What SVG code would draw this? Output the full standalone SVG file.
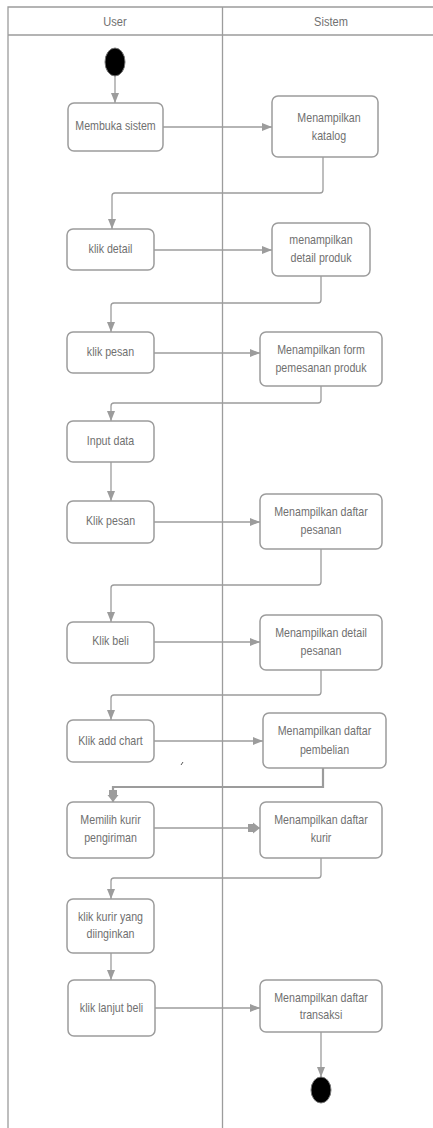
<svg xmlns="http://www.w3.org/2000/svg" width="433" height="1128" viewBox="0 0 433 1128">
<defs>
<style>
.lane{stroke:#9c9c9c;stroke-width:1.3;fill:none}
.box{fill:#fff;stroke:#9c9c9c;stroke-width:1.5}
.t{font-family:"Liberation Sans",Arial,sans-serif;font-size:13px;fill:#707070;text-anchor:middle}
.h{font-family:"Liberation Sans",Arial,sans-serif;font-size:13.5px;fill:#707070;text-anchor:middle}
.c{fill:none;stroke:#9c9c9c;stroke-width:1.3}
.ck{fill:none;stroke:#9c9c9c;stroke-width:2.2}
.dot{fill:#000;stroke:#777;stroke-width:1}
</style>
<marker id="a" markerUnits="userSpaceOnUse" markerWidth="10" markerHeight="10" viewBox="0 0 10 10" refX="10" refY="5" orient="auto">
<path d="M0,1 L10,5 L0,9 Z" fill="#9c9c9c"/>
</marker>
<marker id="ak" markerUnits="userSpaceOnUse" markerWidth="12" markerHeight="12" viewBox="0 0 12 12" refX="12" refY="6" orient="auto">
<path d="M0,2 L5,2 L5,0.5 L12,6 L5,11.5 L5,10 L0,10 Z" fill="#9c9c9c"/>
</marker>
</defs>
<rect width="433" height="1128" fill="#fff"/>
<g id="swimlanes">
<path class="lane" d="M8,1128 V7 H433 M8,35 H433 M222.5,7 V1128"/>
<text class="h" transform="translate(115,26) scale(0.82,1)">User</text>
<text class="h" transform="translate(331,26) scale(0.82,1)">Sistem</text>
</g>
<g id="connectors">
<path class="c" marker-end="url(#a)" d="M115,76 V103"/>
<path class="c" marker-end="url(#a)" d="M163,127 H272"/>
<path class="c" marker-end="url(#a)" d="M323,157 V190 Q323,193 320,193 H115 Q112,193 112,196 V229"/>
<path class="c" marker-end="url(#a)" d="M154,250 H272"/>
<path class="c" marker-end="url(#a)" d="M321,276 V300 Q321,303 318,303 H114 Q111,303 111,306 V332"/>
<path class="c" marker-end="url(#a)" d="M154,353 H260"/>
<path class="c" marker-end="url(#a)" d="M321,386 V400 Q321,403 318,403 H114 Q111,403 111,406 V421"/>
<path class="c" marker-end="url(#a)" d="M111,462 V501"/>
<path class="c" marker-end="url(#a)" d="M154,522 H260"/>
<path class="c" marker-end="url(#a)" d="M321,549 V582 Q321,585 318,585 H114 Q111,585 111,588 V622"/>
<path class="c" marker-end="url(#a)" d="M154,642 H260"/>
<path class="c" marker-end="url(#a)" d="M321,670 V692 Q321,695 318,695 H114 Q111,695 111,698 V720"/>
<path class="c" marker-end="url(#a)" d="M154,741 H263"/>
<path class="ck" marker-end="url(#ak)" d="M323,768 V787 H113 V802"/>
<path class="c" marker-end="url(#ak)" d="M154,828 H260"/>
<path class="c" marker-end="url(#a)" d="M321,858 V875 Q321,878 318,878 H114 Q111,878 111,881 V899"/>
<path class="c" marker-end="url(#a)" d="M111,953 V980"/>
<path class="c" marker-end="url(#a)" d="M155,1008 H260"/>
<path class="c" marker-end="url(#a)" d="M321,1032 V1077"/>
<path d="M181,765 L183,762" stroke="#555" stroke-width="1"/>
</g>
<g id="start"><ellipse class="dot" cx="115" cy="62" rx="10" ry="14"/></g>
<g id="n1"><rect class="box" x="68" y="103" width="95" height="48" rx="6"/><text class="t" transform="translate(115.5,130) scale(0.82,1)">Membuka sistem</text></g>
<g id="s1"><rect class="box" x="272" y="96" width="106" height="61" rx="6"/><text class="t" transform="translate(329,122) scale(0.82,1)">Menampilkan</text><text class="t" transform="translate(329,140) scale(0.82,1)">katalog</text></g>
<g id="n2"><rect class="box" x="67" y="229" width="87" height="41" rx="6"/><text class="t" transform="translate(110.5,253) scale(0.82,1)">klik detail</text></g>
<g id="s2"><rect class="box" x="272" y="223" width="98" height="53" rx="6"/><text class="t" transform="translate(321,244) scale(0.82,1)">menampilkan</text><text class="t" transform="translate(321,262) scale(0.82,1)">detail produk</text></g>
<g id="n3"><rect class="box" x="67" y="332" width="87" height="41" rx="6"/><text class="t" transform="translate(110.5,356) scale(0.82,1)">klik pesan</text></g>
<g id="s3"><rect class="box" x="260" y="332" width="122" height="54" rx="6"/><text class="t" transform="translate(321,354) scale(0.82,1)">Menampilkan form</text><text class="t" transform="translate(321,372) scale(0.82,1)">pemesanan produk</text></g>
<g id="n4"><rect class="box" x="67" y="421" width="87" height="41" rx="6"/><text class="t" transform="translate(110.5,445) scale(0.82,1)">Input data</text></g>
<g id="n5"><rect class="box" x="67" y="501" width="87" height="42" rx="6"/><text class="t" transform="translate(110.5,525) scale(0.82,1)">Klik pesan</text></g>
<g id="s4"><rect class="box" x="260" y="494" width="122" height="55" rx="6"/><text class="t" transform="translate(321,516) scale(0.82,1)">Menampilkan daftar</text><text class="t" transform="translate(321,534) scale(0.82,1)">pesanan</text></g>
<g id="n6"><rect class="box" x="67" y="622" width="87" height="41" rx="6"/><text class="t" transform="translate(110.5,645) scale(0.82,1)">Klik beli</text></g>
<g id="s5"><rect class="box" x="260" y="615" width="122" height="55" rx="6"/><text class="t" transform="translate(321,637) scale(0.82,1)">Menampilkan detail</text><text class="t" transform="translate(321,655) scale(0.82,1)">pesanan</text></g>
<g id="n7"><rect class="box" x="67" y="720" width="87" height="42" rx="6"/><text class="t" transform="translate(110.5,745) scale(0.82,1)">Klik add chart</text></g>
<g id="s6"><rect class="box" x="263" y="713" width="123" height="55" rx="6"/><text class="t" transform="translate(324.5,735) scale(0.82,1)">Menampilkan daftar</text><text class="t" transform="translate(324.5,754) scale(0.82,1)">pembelian</text></g>
<g id="n8"><rect class="box" x="67" y="802" width="87" height="56" rx="6"/><text class="t" transform="translate(110.5,824) scale(0.82,1)">Memilih kurir</text><text class="t" transform="translate(110.5,842) scale(0.82,1)">pengiriman</text></g>
<g id="s7"><rect class="box" x="260" y="802" width="122" height="56" rx="6"/><text class="t" transform="translate(321,824) scale(0.82,1)">Menampilkan daftar</text><text class="t" transform="translate(321,842) scale(0.82,1)">kurir</text></g>
<g id="n9"><rect class="box" x="67" y="899" width="87" height="54" rx="6"/><text class="t" transform="translate(110.5,921) scale(0.82,1)">klik kurir yang</text><text class="t" transform="translate(110.5,938) scale(0.82,1)">diinginkan</text></g>
<g id="n10"><rect class="box" x="68" y="980" width="87" height="56" rx="6"/><text class="t" transform="translate(111.5,1012) scale(0.82,1)">klik lanjut beli</text></g>
<g id="s8"><rect class="box" x="260" y="980" width="122" height="52" rx="6"/><text class="t" transform="translate(321,1002) scale(0.82,1)">Menampilkan daftar</text><text class="t" transform="translate(321,1019) scale(0.82,1)">transaksi</text></g>
<g id="end"><ellipse class="dot" cx="321" cy="1090" rx="10" ry="13"/></g>
</svg>
